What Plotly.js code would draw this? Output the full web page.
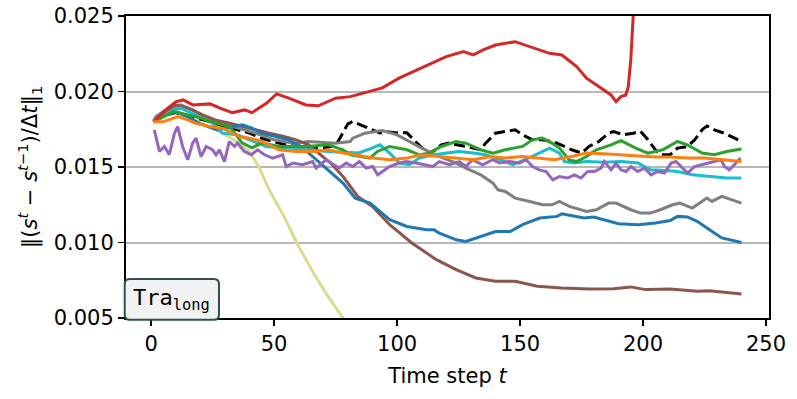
<!DOCTYPE html>
<html>
<head>
<meta charset="utf-8">
<script src="https://cdn.plot.ly/plotly-3.0.1.min.js"></script>
<style>
  html, body { margin: 0; padding: 0; background: #fff; }
  #plot { width: 797px; height: 399px; }
</style>
</head>
<body>
<div id="plot"></div>
<script>
// values (time step vs. normalised state change)
var blueX = [1, 5, 10, 15, 20, 27, 37, 41, 45, 56, 61, 67, 73, 78, 83, 89, 97, 104, 112, 115, 117, 124, 128, 132, 140, 146, 151, 158, 165, 167, 176, 180, 185, 190, 198, 205, 211, 214, 218, 222, 227, 232, 240];
var blueY = [0.0180, 0.01839, 0.01865, 0.01832, 0.01786, 0.01746, 0.01779, 0.01757, 0.01724, 0.0168, 0.01636, 0.01548, 0.0146, 0.01393, 0.01294, 0.01261, 0.01151, 0.01106, 0.01085, 0.01085, 0.01063, 0.01018, 0.01007, 0.01029, 0.01073, 0.01073, 0.01118, 0.01162, 0.01173, 0.0119, 0.01162, 0.01169, 0.01144, 0.01124, 0.01118, 0.01129, 0.01146, 0.01173, 0.01169, 0.0114, 0.01085, 0.0103, 0.0100];

var orangeX = [1, 5, 11, 15, 18, 24, 29, 36, 40, 45, 52, 59, 67, 72, 78, 83, 90, 97, 104, 110, 117, 124, 131, 138, 144, 151, 158, 164, 171, 177, 184, 191, 198, 205, 211, 218, 225, 232, 240];
var orangeY = [0.0180, 0.0180, 0.01834, 0.01812, 0.0179, 0.01768, 0.01757, 0.01702, 0.01691, 0.01669, 0.01614, 0.01603, 0.01603, 0.01614, 0.01592, 0.01581, 0.01559, 0.01548, 0.01559, 0.01581, 0.0157, 0.01559, 0.01548, 0.0157, 0.01559, 0.0157, 0.01559, 0.01548, 0.0157, 0.01592, 0.01587, 0.01581, 0.0157, 0.01566, 0.01566, 0.01559, 0.01559, 0.01548, 0.01536];

var greenX = [1, 5, 9, 15, 20, 24, 32, 37, 41, 45, 52, 63, 72, 78, 81, 89, 92, 97, 104, 109, 113, 118, 124, 128, 134, 139, 144, 151, 155, 159, 163, 166, 170, 173, 177, 181, 187, 191, 197, 202, 208, 214, 218, 224, 229, 234, 240];
var greenY = [0.0180, 0.01832, 0.01867, 0.01845, 0.01825, 0.01801, 0.01768, 0.0166, 0.01627, 0.0166, 0.01636, 0.01636, 0.01647, 0.01614, 0.01581, 0.01559, 0.01603, 0.01636, 0.01614, 0.01581, 0.01592, 0.01636, 0.01669, 0.01658, 0.01614, 0.01592, 0.01614, 0.01636, 0.0168, 0.01691, 0.01658, 0.01625, 0.01547, 0.01536, 0.01569, 0.01614, 0.01647, 0.01675, 0.01625, 0.01592, 0.01614, 0.01669, 0.01647, 0.01592, 0.01581, 0.01603, 0.01619];

var redX = [1, 5, 10, 13, 17, 24, 28, 33, 38, 41, 47, 51, 56, 63, 68, 75, 81, 89, 94, 101, 108, 113, 120, 127, 131, 135, 140, 148, 154, 162, 167, 173, 177, 183, 187, 189, 191, 193, 194, 195, 196, 197, 200];
var redY = [0.0180, 0.01865, 0.01931, 0.01944, 0.01911, 0.01918, 0.0189, 0.0186, 0.01878, 0.0186, 0.01923, 0.01984, 0.01956, 0.01911, 0.01905, 0.01956, 0.01966, 0.01999, 0.02024, 0.0209, 0.02143, 0.02176, 0.02231, 0.02264, 0.02242, 0.02275, 0.02308, 0.0233, 0.02297, 0.02253, 0.02242, 0.02165, 0.02088, 0.02022, 0.01977, 0.01933, 0.01966, 0.01977, 0.02032, 0.02209, 0.0250, 0.032, 0.045];

var purpleX = [1.3, 3.4, 5.4, 7.4, 9.5, 10.8, 12.8, 14.9, 16.9, 18.3, 20.3, 22.4, 25.0, 26.4, 27.8, 29.8, 31.8, 33.9, 35.1, 37.9, 40.7, 43.3, 46.1, 49.4, 53.5, 54.9, 57.6, 61.6, 65.7, 67.1, 71.1, 76.5, 79.3, 82.0, 84.7, 87.4, 90.1, 92.1, 94.1, 96.9, 100.9, 103.7, 107.7, 114.5, 117.2, 121.3, 125.3, 128.0, 130.7, 134.8, 138.9, 141.6, 145.7, 149.7, 152.4, 155.1, 157.8, 160.6, 163.3, 166.0, 169.3, 172.1, 174.8, 177.5, 180.2, 182.9, 184.3, 187.0, 189.0, 191.1, 193.1, 195.1, 197.8, 200.5, 203.3, 205.9, 208.7, 211.4, 213.4, 215.4, 218.1, 220.9, 223.6, 226.3, 228.9, 231.7, 233.1, 235.1, 237.1, 239.6];
var purpleY = [0.01746, 0.01603, 0.01636, 0.01581, 0.01724, 0.01768, 0.01636, 0.01548, 0.01658, 0.01691, 0.01569, 0.01636, 0.01614, 0.01581, 0.01614, 0.01536, 0.01669, 0.01636, 0.01658, 0.01603, 0.01581, 0.01614, 0.01581, 0.01559, 0.01581, 0.01503, 0.01526, 0.01515, 0.01536, 0.01493, 0.01548, 0.01493, 0.01526, 0.01503, 0.01536, 0.01493, 0.01503, 0.01448, 0.0147, 0.01503, 0.01526, 0.01536, 0.01526, 0.01503, 0.01536, 0.01515, 0.01536, 0.01503, 0.01548, 0.01515, 0.01548, 0.01526, 0.01536, 0.01526, 0.01548, 0.01503, 0.01481, 0.0147, 0.01415, 0.01437, 0.01427, 0.01448, 0.01427, 0.0147, 0.0147, 0.01493, 0.01536, 0.01481, 0.01526, 0.01481, 0.0147, 0.01503, 0.0147, 0.01493, 0.01448, 0.0147, 0.0146, 0.01526, 0.01536, 0.01503, 0.0146, 0.01503, 0.01515, 0.01526, 0.01536, 0.01548, 0.01503, 0.01481, 0.01515, 0.01559];

var brownX = [1, 5, 10, 15, 21, 26, 32, 37, 43, 48, 54, 59, 64, 70, 73, 78, 84, 90, 97, 106, 116, 124, 132, 140, 148, 157, 167, 178, 188, 195, 201, 211, 222, 227, 240];
var brownY = [0.0180, 0.01856, 0.01911, 0.0189, 0.01845, 0.01812, 0.0179, 0.01768, 0.01746, 0.01724, 0.01702, 0.0168, 0.01647, 0.0157, 0.01526, 0.01437, 0.01305, 0.01239, 0.01118, 0.00997, 0.00886, 0.0082, 0.00765, 0.00743, 0.00743, 0.0071, 0.00699, 0.00692, 0.00694, 0.00706, 0.00688, 0.00692, 0.00677, 0.00681, 0.00659];

var blackX = [1, 5, 10, 15, 20, 25, 30, 35, 40, 45, 50, 55, 60, 65, 70, 75, 78, 80, 82, 85, 89, 93, 96, 100, 104, 108, 111, 113, 118, 121, 128, 134, 136, 140, 144, 148, 151, 155, 159, 163, 165, 171, 175, 178, 182, 186, 188, 192, 196, 199, 202, 205, 207, 211, 214, 218, 221, 224, 226, 229, 233, 236, 240];
var blackY = [0.01805, 0.0184, 0.0186, 0.0184, 0.0182, 0.01795, 0.01768, 0.01745, 0.01725, 0.0169, 0.01665, 0.01645, 0.01635, 0.01632, 0.01628, 0.0164, 0.01733, 0.01786, 0.01801, 0.01779, 0.01753, 0.01726, 0.01733, 0.01726, 0.01726, 0.0166, 0.01614, 0.01581, 0.01647, 0.01658, 0.01636, 0.01614, 0.01658, 0.01724, 0.01735, 0.01746, 0.01713, 0.0168, 0.0168, 0.01669, 0.01658, 0.01614, 0.01592, 0.01636, 0.01669, 0.01724, 0.01735, 0.01713, 0.01724, 0.01735, 0.0168, 0.01614, 0.01581, 0.01581, 0.01625, 0.01636, 0.0168, 0.01746, 0.01772, 0.01746, 0.01724, 0.01702, 0.01669];

var grayX = [1, 2, 7, 12, 17, 22, 28, 35, 42, 50, 58, 64, 75, 81, 82, 87, 94, 100, 105, 110, 117, 124, 128, 134, 139, 141, 144, 148, 154, 159, 163, 166, 170, 177, 181, 186, 189, 195, 199, 203, 207, 212, 215, 220, 226, 228, 232, 240];
var grayY = [0.01805, 0.01834, 0.0189, 0.01911, 0.01878, 0.01832, 0.01792, 0.01759, 0.01726, 0.0168, 0.01658, 0.01669, 0.01658, 0.01669, 0.01691, 0.01724, 0.01741, 0.01713, 0.01669, 0.01625, 0.0157, 0.01526, 0.01493, 0.01448, 0.01393, 0.01349, 0.01338, 0.01294, 0.01272, 0.0125, 0.0125, 0.01272, 0.01239, 0.01206, 0.01217, 0.01261, 0.01261, 0.01217, 0.01195, 0.01195, 0.01217, 0.0125, 0.01261, 0.01228, 0.01294, 0.01272, 0.01305, 0.01261];

var oliveX = [1, 5, 10, 12, 17, 22, 29, 36, 40, 44, 48, 54, 60, 66, 71, 77, 85, 95];
var oliveY = [0.0180, 0.01845, 0.01872, 0.01865, 0.01812, 0.01779, 0.01724, 0.01658, 0.0160, 0.01495, 0.01349, 0.01173, 0.00974, 0.00798, 0.00666, 0.00522, 0.0036, 0.0025];

var cyanX = [1, 5, 9, 12, 18, 25, 29, 35, 40, 47, 55, 63, 72, 81, 84, 88, 93, 97, 101, 105, 109, 115, 120, 125, 131, 136, 142, 147, 152, 158, 162, 166, 168, 172, 177, 184, 191, 198, 203, 209, 214, 220, 224, 229, 234, 240];
var cyanY = [0.0180, 0.01832, 0.01878, 0.0189, 0.01845, 0.0179, 0.01724, 0.01713, 0.0168, 0.01634, 0.01627, 0.01614, 0.01603, 0.01596, 0.01592, 0.01614, 0.01647, 0.01592, 0.01526, 0.01515, 0.01559, 0.01581, 0.01592, 0.01603, 0.01592, 0.01581, 0.01548, 0.01515, 0.01548, 0.01592, 0.01625, 0.01592, 0.01536, 0.01526, 0.01536, 0.01532, 0.01536, 0.01526, 0.01481, 0.01477, 0.0147, 0.01448, 0.01442, 0.01433, 0.01427, 0.01427];

var xTicks = [0, 50, 100, 150, 200, 250];
var yTicks = [0.005, 0.010, 0.015, 0.020, 0.025];

var FONT = 'DejaVu Sans, Liberation Sans, sans-serif';
var LW = 3;

function line(x, y, colour, dash) {
    return {
        x: x,
        y: y,
        type: 'scatter',
        mode: 'lines',
        showlegend: false,
        hoverinfo: 'skip',
        line: { color: colour, width: LW, dash: dash || 'solid' }
    };
}

// drawing order chosen so the overlaps look like the reference
var traceList = [
    line(oliveX, oliveY, '#dbdb8d'),
    line(blackX, blackY, '#000000', '11px,5px'),
    line(grayX, grayY, '#7f7f7f'),
    line(brownX, brownY, '#8c564b'),
    line(blueX, blueY, '#1f77b4'),
    line(cyanX, cyanY, '#17becf'),
    line(purpleX, purpleY, '#9467bd'),
    line(greenX, greenY, '#2ca02c'),
    line(redX, redY, '#d62728'),
    line(orangeX, orangeY, '#ff7f0e')
];

// rounded label box in the lower left corner (paper units)
var plotW = 797 - 126 - 28, plotH = 399 - 16 - 81;
var bx0 = -0.002, bx1 = 93 / plotW, by0 = -0.006, by1 = 39 / plotH;
var rx = 5 / plotW, ry = 5 / plotH;
var boxPath = 'M' + (bx0 + rx) + ',' + by0 +
    ' L' + (bx1 - rx) + ',' + by0 + ' Q' + bx1 + ',' + by0 + ' ' + bx1 + ',' + (by0 + ry) +
    ' L' + bx1 + ',' + (by1 - ry) + ' Q' + bx1 + ',' + by1 + ' ' + (bx1 - rx) + ',' + by1 +
    ' L' + (bx0 + rx) + ',' + by1 + ' Q' + bx0 + ',' + by1 + ' ' + bx0 + ',' + (by1 - ry) +
    ' L' + bx0 + ',' + (by0 + ry) + ' Q' + bx0 + ',' + by0 + ' ' + (bx0 + rx) + ',' + by0 + ' Z';

var layout = {
    width: 797,
    height: 399,
    margin: { l: 126, r: 28, t: 16, b: 81 },
    paper_bgcolor: '#ffffff',
    plot_bgcolor: '#ffffff',
    font: { family: FONT, size: 21, color: '#000000' },
    xaxis: {
        range: [-10.2, 251.2],
        tickvals: xTicks,
        ticktext: xTicks.map(String),
        ticks: 'outside',
        ticklen: 6,
        tickwidth: 1.5,
        tickcolor: '#000000',
        showline: true,
        linecolor: '#000000',
        linewidth: 2,
        mirror: true,
        showgrid: false,
        zeroline: false,
        title: { text: 'Time step <i>t</i>', font: { family: FONT, size: 21 }, standoff: 13 }
    },
    yaxis: {
        range: [0.005, 0.025],
        tickvals: yTicks,
        ticktext: yTicks.map(function (v) { return v.toFixed(3); }),
        ticks: 'outside',
        ticklen: 6,
        tickwidth: 1.5,
        tickcolor: '#000000',
        showline: true,
        linecolor: '#000000',
        linewidth: 2,
        mirror: true,
        showgrid: true,
        gridcolor: '#b8b8b8',
        gridwidth: 2,
        zeroline: false,
        title: {
            text: '‖(<i>s</i><sup><i>t</i></sup> − <i>s</i><sup><i>t</i>−1</sup>)/Δ<i>t</i>‖<sub>1</sub>',
            font: { family: FONT, size: 21 },
            standoff: 10
        }
    },
    shapes: [
        {
            type: 'path',
            xref: 'paper',
            yref: 'paper',
            path: boxPath,
            fillcolor: '#f2f2f2',
            line: { color: '#2f5050', width: 2 },
            layer: 'above'
        }
    ],
    annotations: [
        {
            xref: 'paper',
            yref: 'paper',
            x: (bx0 + bx1) / 2,
            y: (by0 + by1) / 2,
            xanchor: 'center',
            yanchor: 'middle',
            showarrow: false,
            text: 'Tra<sub>long</sub>',
            font: { family: 'DejaVu Sans Mono, Liberation Mono, monospace', size: 22, color: '#000000' }
        }
    ]
};

Plotly.newPlot('plot', traceList, layout, { staticPlot: true, displayModeBar: false });
</script>
</body>
</html>
